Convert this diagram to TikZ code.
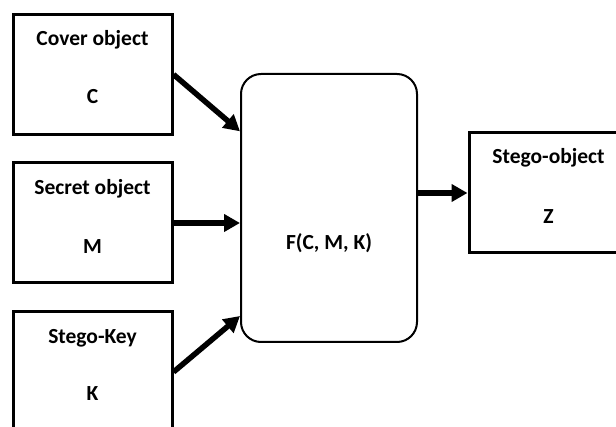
\documentclass[tikz,border=0pt]{standalone}
\usepackage{fontspec}
\setmainfont{Carlito}
\usetikzlibrary{arrows.meta,calc}
\begin{document}
\begin{tikzpicture}[x=1pt,y=-1pt,
  sqbox/.style={draw=black,line width=3pt,fill=white,minimum width=159pt,minimum height=120pt,inner sep=0pt},
  fbox/.style={draw=black,line width=2pt,fill=white,rounded corners=20pt,minimum width=176pt,minimum height=268pt,inner sep=0pt},
  lbl/.style={font=\fontsize{21.5}{25}\selectfont\bfseries,inner sep=0pt,anchor=center},
  thick arrow/.style={line width=5.5pt,-{Triangle[length=16pt,width=17pt]}}]
\useasboundingbox (0,0) rectangle (616,427);
\clip (0,0) rectangle (616,427);
\fill[white] (0,0) rectangle (616,427);
\node[sqbox] (cover) at (92.5,74.5) {};
\node[sqbox] (secret) at (92.5,223) {};
\node[sqbox] (key) at (92.5,372) {};
\node[fbox] (F) at (329,208) {};
\node[sqbox] (stego) at (548.5,193) {};
\node[lbl] (t1) at (92.5,40) {Cover object};
\node[lbl] (t2) at (92.5,97) {C};
\node[lbl] (t3) at (92.5,189) {Secret object};
\node[lbl] (t4) at (92.5,247) {M};
\node[lbl] (t5) at (92.5,338) {Stego-Key};
\node[lbl] (t6) at (92.5,394) {K};
\node[lbl] (t7) at (329,243) {F(C, M, K)};
\node[lbl] (t8) at (548.5,158) {Stego-object};
\node[lbl] (t9) at (548.5,217) {Z};
\draw[thick arrow] (cover.east) -- ($(F.north west)!0.216!(F.south west)$);
\draw[thick arrow] (secret.east) -- (secret.east -| F.west);
\draw[thick arrow] (key.east) -- ($(F.north west)!0.9!(F.south west)$);
\draw[thick arrow] (stego.west -| F.east) -- (stego.west);
\end{tikzpicture}
\end{document}
